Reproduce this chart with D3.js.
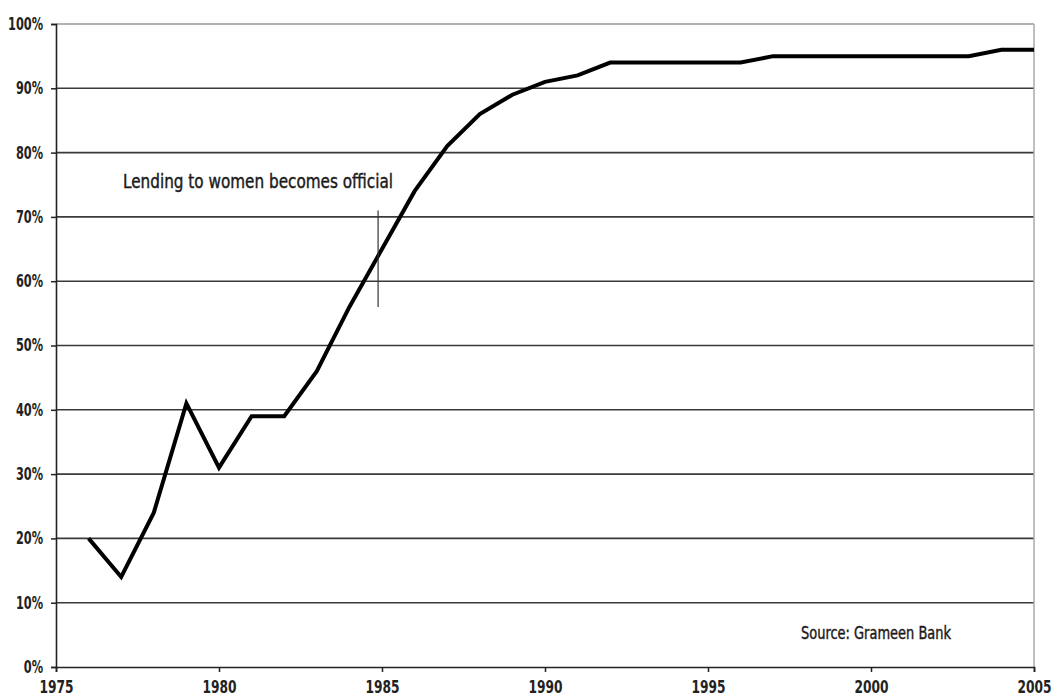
<!DOCTYPE html>
<html>
<head>
<meta charset="utf-8">
<script src="https://cdn.jsdelivr.net/npm/d3@7"></script>
<style>
  body { margin: 0; background: #fff; }
  svg text { font-family: "Liberation Sans Narrow", "DejaVu Sans Condensed", "DejaVu Sans", sans-serif; font-stretch: condensed; }
</style>
</head>
<body>
<div id="chart"></div>
<script>
// share of loans going to women, by year
var years = [1976, 1977, 1978, 1979, 1980, 1981, 1982, 1983, 1984, 1985,
             1986, 1987, 1988, 1989, 1990, 1991, 1992, 1993, 1994, 1995,
             1996, 1997, 1998, 1999, 2000, 2001, 2002, 2003, 2004, 2005];
var womenShare = [20, 14, 24, 41, 31, 39, 39, 46, 56, 65,
                  74, 81, 86, 89, 91, 92, 94, 94, 94, 94,
                  94, 95, 95, 95, 95, 95, 95, 95, 96, 96];
var xTicks = [1975, 1980, 1985, 1990, 1995, 2000, 2005];
var yTicks = [0, 10, 20, 30, 40, 50, 60, 70, 80, 90, 100];
var annotYear = 1984.88;
var annotText = "Lending to women becomes official";
var sourceText = "Source: Grameen Bank";

var width = 1052, height = 698;
var margin = {top: 24, right: 18, bottom: 31, left: 56};

var svg = d3.select("#chart")
  .append("svg")
    .attr("width", width)
    .attr("height", height);

var x = d3.scaleLinear()
  .domain([1975, 2005])
  .range([margin.left, width - margin.right]);

var y = d3.scaleLinear()
  .domain([0, 100])
  .range([height - margin.bottom, margin.top]);

// squeeze text horizontally, the original uses a narrow font
function squeeze(sel, k) {
  sel.each(function() {
    var w = this.getComputedTextLength();
    d3.select(this).attr("textLength", w * k).attr("lengthAdjust", "spacingAndGlyphs");
  });
}

// horizontal gridlines
svg.append("g")
  .selectAll("line")
  .data(yTicks.filter(d => d > 0))
  .join("line")
    .attr("x1", x(1975))
    .attr("x2", x(2005))
    .attr("y1", d => y(d))
    .attr("y2", d => y(d))
    .attr("stroke", d => d == 100 ? "#999" : "#3a3a3a")
    .attr("stroke-width", 1.6);

// right border
svg.append("line")
  .attr("x1", x(2005)).attr("x2", x(2005))
  .attr("y1", y(100)).attr("y2", y(0))
  .attr("stroke", "#aaa")
  .attr("stroke-width", 1.5);

// y axis
var yAxis = svg.append("g")
  .attr("transform", `translate(${x(1975)},0)`)
  .call(d3.axisLeft(y).tickValues(yTicks).tickFormat(d => d + "%").tickSize(5).tickPadding(8));
yAxis.select(".domain").attr("stroke", "#222").attr("stroke-width", 1.6);
yAxis.selectAll(".tick line").attr("stroke", "#222").attr("stroke-width", 1.5);
yAxis.selectAll("text")
  .attr("font-size", 17)
  .attr("font-weight", "bold")
  .attr("fill", "#222")
  .call(squeeze, 0.74);

// x axis
var xAxis = svg.append("g")
  .attr("transform", `translate(0,${y(0)})`)
  .call(d3.axisBottom(x).tickValues(xTicks).tickFormat(d3.format("d")).tickSize(5).tickPadding(9));
xAxis.select(".domain").attr("stroke", "#222").attr("stroke-width", 1.6);
xAxis.selectAll(".tick line").attr("stroke", "#222").attr("stroke-width", 1.5);
xAxis.selectAll("text")
  .attr("font-size", 17)
  .attr("font-weight", "bold")
  .attr("fill", "#222")
  .call(squeeze, 0.8);

// the data line
var line = d3.line()
  .x((d, i) => x(years[i]))
  .y(d => y(d));

svg.append("path")
  .datum(womenShare)
  .attr("d", line)
  .attr("fill", "none")
  .attr("stroke", "#000")
  .attr("stroke-width", 4)
  .attr("stroke-linejoin", "miter");

// annotation
svg.append("line")
  .attr("x1", x(annotYear)).attr("x2", x(annotYear))
  .attr("y1", y(71)).attr("y2", y(56))
  .attr("stroke", "#333")
  .attr("stroke-width", 1.2);

svg.append("text")
  .attr("x", 123)
  .attr("y", 188)
  .attr("font-size", 19)
  .attr("fill", "#1a1a1a")
  .attr("stroke", "#1a1a1a")
  .attr("stroke-width", 0.4)
  .attr("textLength", 270)
  .attr("lengthAdjust", "spacingAndGlyphs")
  .text(annotText);

svg.append("text")
  .attr("x", 801)
  .attr("y", 639)
  .attr("font-size", 17)
  .attr("fill", "#1a1a1a")
  .attr("stroke", "#1a1a1a")
  .attr("stroke-width", 0.4)
  .attr("textLength", 150)
  .attr("lengthAdjust", "spacingAndGlyphs")
  .text(sourceText);
</script>
</body>
</html>
